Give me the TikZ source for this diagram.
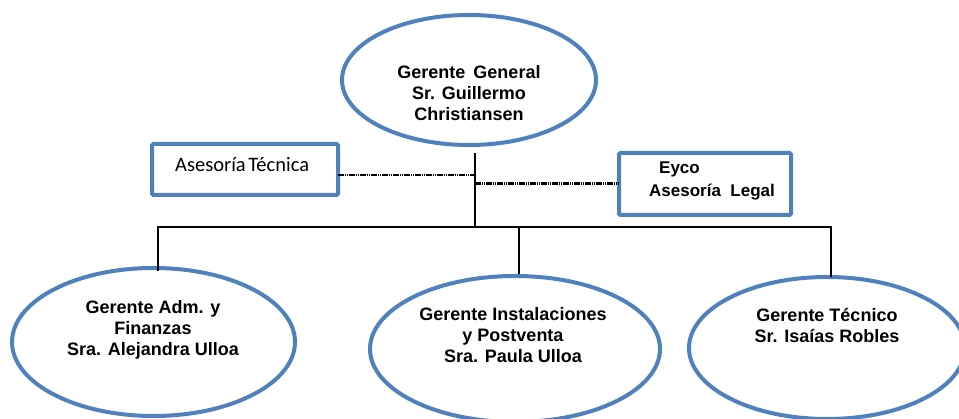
\documentclass[tikz,border=0pt]{standalone}
\usepackage{fontspec}
\setmainfont{Liberation Sans}
\newfontfamily\carl{Carlito}
\usetikzlibrary{shapes.geometric}
\definecolor{ublue}{RGB}{79,129,189}
\begin{document}
\begin{tikzpicture}[x=1pt,y=-1pt,
  oval/.style={ellipse,draw=ublue,line width=4pt,inner sep=0pt,outer sep=0pt,fill=white},
  abox/.style={draw=ublue,line width=4pt,rounded corners=1.5pt,inner sep=0pt,outer sep=0pt,fill=white,minimum width=#1},
  lbl/.style={font=\bfseries\fontsize{18}{21}\selectfont,align=center,inner sep=0pt},
  conn/.style={line width=2pt,black},
  dot/.style={line width=2.4pt,black,dash pattern=on 1.6pt off 0.6pt}]
\useasboundingbox (0,0) rectangle (959,419);
\clip (0,0) rectangle (959,419);
\fill[white] (0,0) rectangle (959,419);
% nodes
\node[oval,minimum width=254,minimum height=130] (gg) at (469,80) {};
\node[abox=186,minimum height=51] (at) at (245,169.5) {};
\node[abox=172,minimum height=62] (ey) at (705,184) {};
\node[oval,minimum width=283,minimum height=148] (ga) at (153.5,342) {};
\node[oval,minimum width=290,minimum height=146] (gi) at (515,349) {};
\node[oval,minimum width=276,minimum height=142] (gt) at (827,348) {};
% labels
\node[lbl] (tgg) at (469,93.5) {Gerente\ \,General\\Sr. Guillermo\\Christiansen};
\node[anchor=west,inner sep=0pt,font=\carl\fontsize{20.5}{24}\selectfont] (tat) at (175,164.5) {Asesor\'{\i}a\hspace{2.5pt}T\'ecnica};
\node[anchor=west,inner sep=0pt,font=\bfseries\fontsize{17}{23}\selectfont,align=left] (tey) at (649,180.5) {\hspace*{10pt}Eyco\\Asesor\'{\i}a\ \ Legal};
\node[lbl] (tga) at (153,329.5) {Gerente Adm. y\\Finanzas\\Sra. Alejandra Ulloa};
\node[lbl] (tgi) at (513,335.5) {Gerente Instalaciones\\y Postventa\\Sra. Paula Ulloa};
\node[lbl] (tgt) at (827,325) {Gerente T\'ecnico\\Sr. Isa\'{\i}as Robles};
% connectors
\coordinate (top) at (475,153);
\coordinate (hub) at (475,227);
\coordinate (bl) at (157,227);
\coordinate (br) at (832,227);
\coordinate (dl) at (158,227);
\coordinate (dm) at (519,227);
\coordinate (dr) at (831,227);
\draw[conn] (top) -- (hub);
\draw[conn] (bl) -- (br);
\draw[conn] (dl) -- (158,271);
\draw[conn] (dm) -- (519,274);
\draw[conn] (dr) -- (831,277);
\draw[dot] (at.east |- 0,175) -- (top |- 0,175);
\draw[dot] (top |- 0,183.5) -- (ey.west |- 0,183.5);
\end{tikzpicture}
\end{document}
